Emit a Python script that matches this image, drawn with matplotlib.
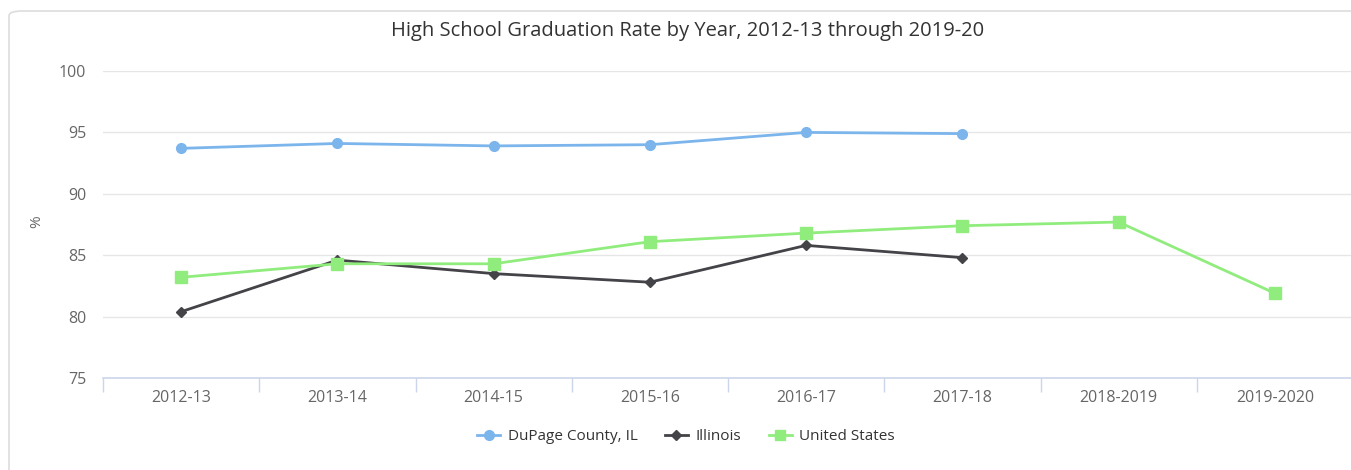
import numpy as np
import matplotlib.pyplot as plt
from matplotlib.patches import FancyBboxPatch
from matplotlib.lines import Line2D

plt.rcParams['font.family'] = ['Open Sans', 'DejaVu Sans']

years = ['2012-13', '2013-14', '2014-15', '2015-16', '2016-17', '2017-18',
         '2018-2019', '2019-2020']
dupage = [93.7, 94.1, 93.9, 94.0, 95.0, 94.9]
illinois = [80.4, 84.6, 83.5, 82.8, 85.8, 84.8]
united_states = [83.2, 84.3, 84.3, 86.1, 86.8, 87.4, 87.7, 81.9]

colors = {'dupage': '#7cb5ec', 'illinois': '#434348', 'us': '#90ed7d'}

fig = plt.figure(figsize=(13.51, 4.70), dpi=100)

# rounded card border around the chart
card = FancyBboxPatch((9 / 1351, -0.2), 1.2, 1.0 - 11 / 470 + 0.2,
                      boxstyle='round,pad=0,rounding_size=0.01',
                      transform=fig.transFigure, facecolor='white',
                      edgecolor='#dddddd', linewidth=1.2, zorder=-10)
fig.patches.append(card)

ax = fig.add_axes([103 / 1351, 92 / 470, 1250 / 1351, 307 / 470])
ax.set_facecolor('none')
ax.set_zorder(5)

x = np.arange(len(years))
ax.plot(x[:len(dupage)], dupage, color=colors['dupage'], lw=2, marker='o',
        ms=7, zorder=3, label='DuPage County, IL')
ax.plot(x[:len(illinois)], illinois, color=colors['illinois'], lw=2, marker='D',
        ms=5.5, zorder=3, label='Illinois')
ax.plot(x, united_states, color=colors['us'], lw=2, marker='s',
        ms=8.5, zorder=4, label='United States')

ax.set_xlim(-0.5, len(years) - 0.5)
ax.set_ylim(75, 100)
ax.set_yticks([75, 80, 85, 90, 95, 100])
ax.grid(axis='y', color='#e6e6e6', lw=1)
ax.set_axisbelow(True)

ax.set_xticks(x)
ax.set_xticklabels(years)
ax.set_xticks(np.arange(-0.5, len(years), 1), minor=True)
ax.tick_params(axis='x', which='major', length=0, pad=9, labelsize=11.5,
               labelcolor='#666666')
ax.tick_params(axis='x', which='minor', length=10, color='#ccd6eb', width=1)
ax.tick_params(axis='y', length=0, pad=12, labelsize=11.5, labelcolor='#666666')

for side in ['top', 'right', 'left']:
    ax.spines[side].set_visible(False)
ax.spines['bottom'].set_color('#ccd6eb')
ax.spines['bottom'].set_linewidth(1.2)

fig.text(37 / 1351, 1 - 222 / 470, '%', rotation=90, ha='center', va='center',
         fontsize=11, color='#666666')
fig.text(688 / 1351, 1 - 31 / 470,
         'High School Graduation Rate by Year, 2012-13 through 2019-20',
         ha='center', va='center', fontsize=14.5, color='#333333')

handles = [
    Line2D([], [], color=colors['dupage'], lw=2, marker='o', ms=7),
    Line2D([], [], color=colors['illinois'], lw=2, marker='D', ms=5),
    Line2D([], [], color=colors['us'], lw=2, marker='s', ms=7),
]
fig.legend(handles, ['DuPage County, IL', 'Illinois', 'United States'],
           loc='center', bbox_to_anchor=(686 / 1351, 1 - 437 / 470), ncol=3,
           frameon=False, fontsize=11, handlelength=1.5, handletextpad=0.5,
           columnspacing=1.8, labelcolor='#333333')

fig.savefig('out.png', dpi=100)
